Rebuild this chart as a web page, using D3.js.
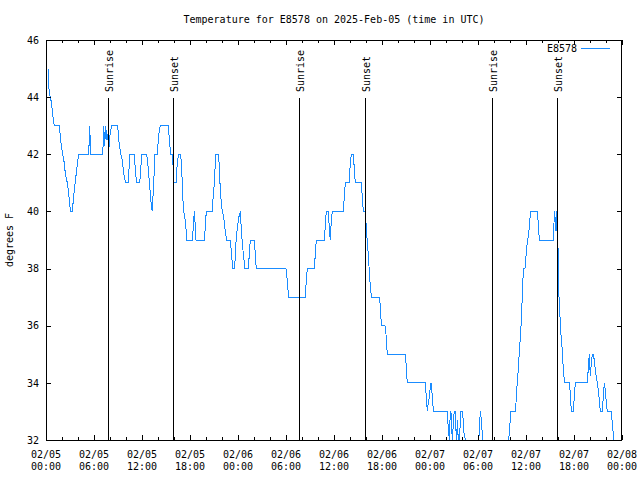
<!DOCTYPE html>
<html><head><meta charset="utf-8">
<script src="https://cdn.jsdelivr.net/npm/d3@7"></script>
<style>
body{margin:0;background:#fff}
text{font-family:"DejaVu Sans Mono",monospace;font-size:10px;fill:#000}
</style>
</head><body><svg id="c" width="640" height="480"></svg>
<script>
// ---- data ----
const stationId = "E8578";
const chartTitle = "Temperature for E8578 on 2025-Feb-05 (time in UTC)";
const yLabel = "degrees F";
const startUTC = Date.UTC(2025, 1, 5, 0, 0);
const spanHours = 72;
// [minutes after 2025-02-05 00:00 UTC, temperature °F]
const tempReadings = [
[15,45],[22,44.3],[30,44.05],[37,43.9],[47,43.55],[55,43.2],[62,43],[100,43],[110,42.5],[118,42.2],[125,42],
[135,41.75],[142,41.45],[150,41.2],[160,41],[167,40.75],[175,40.4],[180,40.17],[185,40],[197,40],[205,40.4],
[212,40.75],[220,41.05],[230,41.45],[238,41.75],[245,42],[320,42],[325,42.6],[328,43],[335,42],[425,42],
[430,42.5],[433,43],[440,42.3],[448,43],[455,42.5],[463,42.7],[470,42],[475,42.5],[485,42.85],[493,43],
[538,43],[545,42.5],[555,42.2],[562,42],[572,41.8],[580,41.45],[587,41.2],[598,41],[617,41],[625,41.7],
[630,42],[662,42],[670,41.45],[680,41],[703,41],[710,41.45],[718,42],[755,42],[763,41.7],[772,41.2],
[780,40.75],[787,40.35],[797,40],[805,40.75],[812,41.45],[817,42],[835,42],[842,42.5],[850,42.85],[857,43],
[917,43],[922,42.7],[930,42.25],[937,42],[950,42],[957,41],[975,41],[980,41.45],[988,41.8],[995,42],
[1010,42],[1018,41.5],[1025,40.55],[1033,40],[1040,39.85],[1048,39.5],[1055,39.15],[1057,39],[1097,39],
[1105,39.45],[1112,40],[1117,39.7],[1125,39],[1187,39],[1195,39.45],[1202,40],[1247,40],[1252,40.4],
[1260,40.85],[1267,41.45],[1275,42],[1292,42],[1300,41.6],[1307,40.75],[1315,40.3],[1322,40],[1333,39.8],
[1340,39.5],[1348,39.2],[1355,39],[1380,39],[1387,38.75],[1395,38.3],[1400,38],[1415,38],[1420,38.5],
[1427,39.1],[1435,39.4],[1445,39.8],[1453,39.85],[1457,40],[1465,39.35],[1475,38.75],[1485,38.3],[1490,38],
[1517,38],[1525,38.5],[1532,39],[1562,39],[1570,38.5],[1577,38],[1800,38],[1807,37.7],[1815,37.25],[1820,37],
[1945,37],[1952,37.6],[1960,38],[2012,38],[2020,38.5],[2027,39],[2087,39],[2095,39.5],[2102,40],[2117,40],
[2125,39.4],[2132,39],[2140,39.7],[2147,40],[2230,40],[2237,40.5],[2245,41],[2275,41],[2282,41.7],[2290,42],
[2305,42],[2312,41.5],[2320,41],[2365,41],[2372,40.5],[2380,40],[2392,40],[2397,39.8],[2405,39.25],[2412,38.8],
[2420,38.3],[2427,37.7],[2435,37.25],[2442,37],[2500,37],[2507,36.7],[2512,36.25],[2517,36],[2542,36],
[2550,35.7],[2555,35.3],[2560,35],[2695,35],[2700,34.7],[2705,34.3],[2710,34],[2845,34],[2850,33.65],
[2855,33.3],[2860,33],[2867,33.3],[2875,33.5],[2882,33.85],[2887,34],[2892,33.8],[2900,33.4],[2905,33],
[3010,33],[3013,32.7],[3020,32.3],[3025,32],[3030,32.7],[3037,33],[3043,32.3],[3050,32],[3055,32.7],[3062,33],
[3070,33],[3075,32.3],[3080,32],[3085,32.7],[3092,32],[3100,32],[3112,33],[3125,33],[3133,32.3],[3145,32],
[3245,32],[3250,32.3],[3257,33],[3265,32.7],[3275,32],[3470,32],[3475,32.25],[3480,32.6],[3487,33],[3520,33],
[3525,33.3],[3530,33.75],[3538,34.2],[3545,34.7],[3553,35.3],[3560,35.75],[3568,36.5],[3575,37.5],[3583,38],
[3592,38],[3598,38.3],[3605,38.75],[3613,39],[3622,39.3],[3630,39.75],[3637,40],[3685,40],[3692,39.6],
[3700,39],[3805,39],[3810,39.6],[3815,40],[3820,39.3],[3827,40],[3832,39.3],[3838,40],[3842,37.5],[3850,36.8],
[3855,36.3],[3862,35.7],[3870,35.25],[3877,34.7],[3885,34.2],[3892,34],[3925,34],[3932,33.65],[3940,33],
[3955,33],[3962,33.5],[3970,34],[4060,34],[4067,34.5],[4075,35],[4082,34.25],[4090,34.7],[4097,35],[4105,35],
[4112,34.8],[4120,34.45],[4127,34.2],[4135,34],[4142,33.75],[4150,33.4],[4157,33],[4172,33],[4180,33.5],
[4187,34],[4195,33.75],[4202,33.3],[4210,33],[4240,33],[4247,32.6],[4255,32.2],[4257,32]
];
const sunriseMinutes = [467, 1900, 3343];
const sunsetMinutes = [955, 2396, 3835];
const yDomain = [32, 46];
const yTickValues = [32, 34, 36, 38, 40, 42, 44, 46];
const majorTickHours = 6;
const minorTickHours = 2;

// ---- layout ----
const L = 46, R = 622, T = 40, B = 440;
const lineColor = "#1a8cff";
const svg = d3.select("#c");
const toDate = m => new Date(startUTC + m * 60000);

const x = d3.scaleUtc().domain([new Date(startUTC), new Date(startUTC + spanHours * 3600000)]).range([L, R]);
const y = d3.scaleLinear().domain(yDomain).range([B, T]);

// title
svg.append("text").attr("x", (L + R) / 2).attr("y", 23).attr("text-anchor", "middle").text(chartTitle);
// y label
svg.append("text").attr("transform", `translate(13,${(T + B) / 2}) rotate(-90)`).attr("text-anchor", "middle").text(yLabel);

// data line
const line = d3.line().x(d => x(toDate(d[0]))).y(d => y(d[1]));
svg.append("path").datum(tempReadings).attr("d", line)
  .attr("fill", "none").attr("stroke", lineColor).attr("stroke-width", 1).attr("shape-rendering", "crispEdges");

// sun events
const sunEvents = sunriseMinutes.map(m => ({m, label: "Sunrise"})).concat(sunsetMinutes.map(m => ({m, label: "Sunset"})));
sunEvents.forEach(e => {
  const px = Math.round(x(toDate(e.m))) + 0.5;
  svg.append("line").attr("x1", px).attr("x2", px).attr("y1", 98).attr("y2", B)
    .attr("stroke", "#000").attr("stroke-width", 1).attr("shape-rendering", "crispEdges");
  svg.append("text").attr("transform", `translate(${px + 4},92) rotate(-90)`).attr("text-anchor", "start").text(e.label);
});

// axes (ticks inward, mirrored)
const majorT = x.ticks(d3.utcHour.every(majorTickHours));
const minorT = x.ticks(d3.utcHour.every(minorTickHours));
function styleAxis(g) { g.select(".domain").remove(); g.selectAll("line").attr("stroke", "#000").attr("shape-rendering", "crispEdges"); }
svg.append("g").attr("transform", `translate(0,${B})`).call(d3.axisBottom(x).tickValues(minorT).tickSize(-3).tickFormat("")).call(styleAxis);
svg.append("g").attr("transform", `translate(0,${T})`).call(d3.axisTop(x).tickValues(minorT).tickSize(-3).tickFormat("")).call(styleAxis);
svg.append("g").attr("transform", `translate(0,${B})`).call(d3.axisBottom(x).tickValues(majorT).tickSize(-5).tickFormat("")).call(styleAxis);
svg.append("g").attr("transform", `translate(0,${T})`).call(d3.axisTop(x).tickValues(majorT).tickSize(-5).tickFormat("")).call(styleAxis);
svg.append("g").attr("transform", `translate(${L},0)`).call(d3.axisLeft(y).tickValues(yTickValues).tickSize(-5).tickPadding(7).tickFormat(d3.format("d"))).call(styleAxis)
  .call(g => g.selectAll("text").style("font-family", "'DejaVu Sans Mono',monospace").style("font-size", "10px").attr("fill", "#000"));
svg.append("g").attr("transform", `translate(${R},0)`).call(d3.axisRight(y).tickValues(yTickValues).tickSize(-5).tickFormat("")).call(styleAxis);

// x tick labels (two lines)
const fDay = d3.utcFormat("%m/%d"), fTime = d3.utcFormat("%H:%M");
majorT.forEach(t => {
  const tx = x(t);
  svg.append("text").attr("x", tx).attr("y", 458).attr("text-anchor", "middle").text(fDay(t));
  svg.append("text").attr("x", tx).attr("y", 470).attr("text-anchor", "middle").text(fTime(t));
});

// border
svg.append("rect").attr("x", L + 0.5).attr("y", T + 0.5).attr("width", R - L - 1).attr("height", B - T)
  .attr("fill", "none").attr("stroke", "#000").attr("stroke-width", 1).attr("shape-rendering", "crispEdges");

// legend
svg.append("text").attr("x", 577).attr("y", 52).attr("text-anchor", "end").text(stationId);
svg.append("line").attr("x1", 581).attr("x2", 610).attr("y1", 48.5).attr("y2", 48.5)
  .attr("stroke", lineColor).attr("stroke-width", 1).attr("shape-rendering", "crispEdges");
</script>
</body></html>
